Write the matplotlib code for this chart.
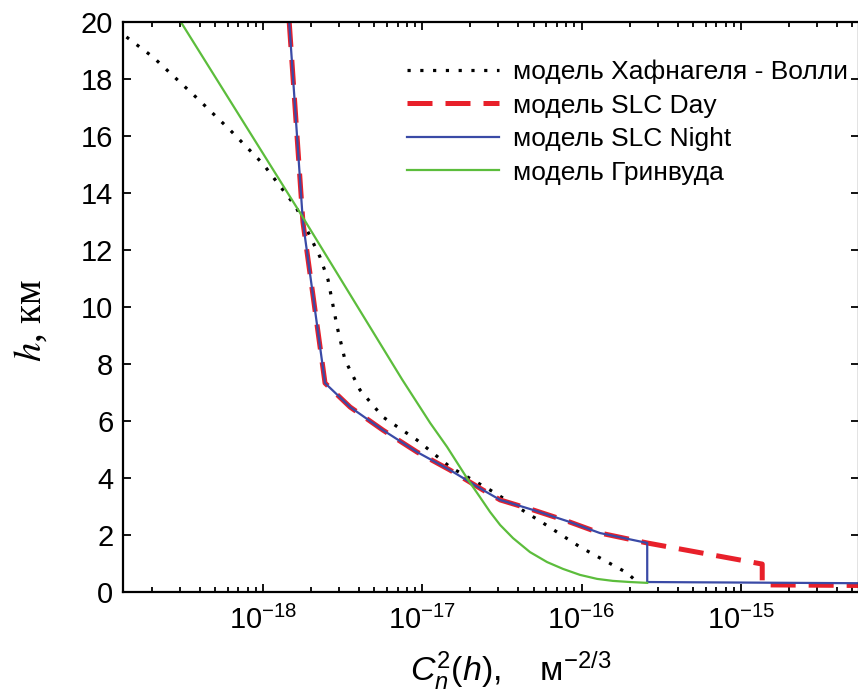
import numpy as np
import matplotlib.pyplot as plt
from matplotlib.ticker import LogLocator, NullFormatter, MultipleLocator

plt.rcParams['font.family'] = ['Liberation Sans', 'DejaVu Sans']
plt.rcParams['mathtext.fontset'] = 'custom'
plt.rcParams['mathtext.rm'] = 'Liberation Sans'
plt.rcParams['mathtext.it'] = 'Liberation Sans:italic'

# values: Cn^2 (m^-2/3) vs height h (km)
hv_cn2 = [1.03e-19, 1.34e-19, 2.04e-19, 3.85e-19, 6.21e-19, 1.0e-18, 1.61e-18,
          2.28e-18, 2.56e-18, 2.92e-18, 3.27e-18, 4.06e-18, 5.66e-18, 9.27e-18,
          1.49e-17, 2.66e-17, 5.73e-17, 9.77e-17, 1.93e-16, 2.16e-16]
hv_h = [20.0, 19.54, 18.77, 17.33, 16.21, 15.02, 13.51, 11.75, 10.95, 9.30,
        8.14, 7.09, 6.14, 5.33, 4.39, 3.58, 2.42, 1.58, 0.67, 0.42]

night_cn2 = [1.46e-18, 1.78e-18, 2.45e-18, 3.52e-18, 5.66e-18, 9.27e-18, 1.49e-17,
             2.40e-17, 3.08e-17, 4.95e-17, 8.09e-17, 1.30e-16, 2.58e-16, 2.58e-16, 1.0e-14]
night_h = [20.0, 12.98, 7.33, 6.49, 5.68, 4.91, 4.28, 3.58, 3.23, 2.88, 2.49, 2.07,
           1.72, 0.35, 0.30]

day_cn2 = [1.46e-18, 1.78e-18, 2.45e-18, 3.52e-18, 5.66e-18, 9.27e-18, 1.49e-17,
           2.40e-17, 3.08e-17, 4.95e-17, 8.09e-17, 1.30e-16, 2.58e-16, 1.36e-15,
           1.36e-15, 1.0e-14]
day_h = [20.0, 12.98, 7.33, 6.49, 5.68, 4.91, 4.28, 3.58, 3.23, 2.88, 2.49, 2.07,
         1.72, 0.98, 0.25, 0.22]

gw_cn2 = [3.05e-19, 1.71e-18, 7.46e-18, 1.12e-17, 1.43e-17, 1.94e-17, 2.30e-17,
          2.66e-17, 3.08e-17, 3.71e-17, 4.74e-17, 6.07e-17, 7.64e-17, 9.77e-17,
          1.25e-16, 1.57e-16, 2.01e-16, 2.58e-16]
gw_h = [20.0, 13.30, 7.46, 5.93, 5.09, 3.93, 3.33, 2.81, 2.35, 1.89, 1.40, 1.05,
        0.81, 0.60, 0.46, 0.39, 0.35, 0.32]

labels = ['модель Хафнагеля - Волли', 'модель SLC Day', 'модель SLC Night', 'модель Гринвуда']

fig = plt.figure(figsize=(8.58, 6.9), dpi=100)
ax = fig.add_axes([123/858, 98/690, 736/858, 570/690])

l1, = ax.plot(hv_cn2, hv_h, color='black', lw=2.3, linestyle=(0, (1, 3)))
l2, = ax.plot(day_cn2, day_h, color='#e8202a', lw=3.6, linestyle=(0, (5, 2.6)),
              dash_capstyle='butt')
l3, = ax.plot(night_cn2, night_h, color='#3a4aa6', lw=1.6)
l4, = ax.plot(gw_cn2, gw_h, color='#5cbd3c', lw=1.6)

ax.set_xscale('log')
ax.set_xlim(10**-18.879, 10**-14.259)
ax.set_ylim(0, 20)
ax.yaxis.set_major_locator(MultipleLocator(2))
ax.xaxis.set_major_locator(LogLocator(base=10, numticks=20))
ax.xaxis.set_minor_locator(LogLocator(base=10, subs=np.arange(2, 10), numticks=20))
ax.xaxis.set_minor_formatter(NullFormatter())

for s in ax.spines.values():
    s.set_linewidth(1.6)
ax.tick_params(which='both', direction='in', top=True, right=True, width=1.3)
ax.tick_params(which='major', length=6, labelsize=21)
ax.tick_params(axis='x', which='major', pad=10)
ax.tick_params(axis='y', which='major', pad=7)
ax.tick_params(which='minor', length=3.5)

ax.set_xlabel(r'$C_n^2(h)$,    м$^{-2/3}$', fontsize=24.5)
ax.xaxis.set_label_coords(0.527, -0.1)
ax.set_ylabel(r'$h$, км', fontsize=28, family=['Liberation Serif'],
              math_fontfamily='stix')
ax.yaxis.set_label_coords(-0.1, 0.477)

ax.legend([l1, l2, l3, l4], labels, loc='upper left', bbox_to_anchor=(0.386, 0.934),
          frameon=False, fontsize=19, handlelength=3.5, handletextpad=0.5,
          labelspacing=0.36, borderpad=0, borderaxespad=0)

fig.savefig('out.png', dpi=100)
